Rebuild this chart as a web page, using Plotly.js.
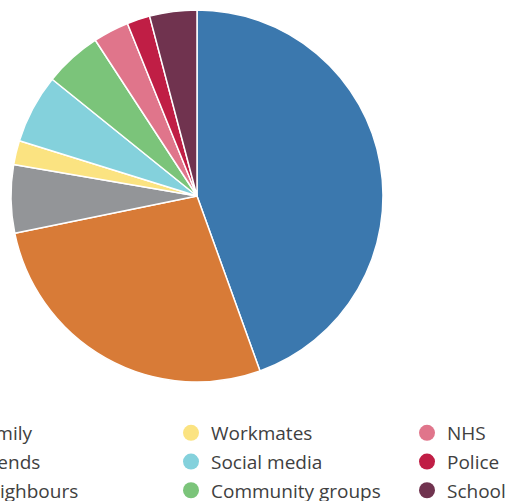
<!DOCTYPE html>
<html><head><meta charset="utf-8">
<script src="https://cdn.plot.ly/plotly-3.0.1.min.js"></script>
<style>html,body{margin:0;padding:0;background:#fff}#chart{width:509px;height:501px}</style>
</head><body><div id="chart"></div>
<script>
const categories = ["Family","Friends","Neighbours","Workmates","Social media","Community groups","NHS","Police","School"];
const values = [44.5,27.3,5.9,2.1,6.0,5.0,3.1,2.0,4.1];
const colors = ["#3b78ae","#d87b37","#939598","#fbe381","#84d1dc","#7bc47a","#e0758b","#c01e45","#70334f"];
const legendColumns = [[0,1,2],[3,4,5],[6,7,8]];

const traces = [{
  type:'pie', labels:categories, values:values, sort:false, direction:'clockwise', rotation:0,
  marker:{colors:colors, line:{color:'#ffffff', width:1.5}}, textinfo:'none', hoverinfo:'label+percent',
  showlegend:false, domain:{x:[11/509,383/509], y:[119/501,491/501]}
}];
const legendNames = ['legend','legend2','legend3'];
legendColumns.forEach((col,ci)=>{
  col.forEach(i=>{
    traces.push({type:'scatter', mode:'markers', x:[null], y:[null], name:categories[i],
      marker:{color:colors[i], size:16, symbol:'circle'}, legend:legendNames[ci], legendgroup:categories[i], hoverinfo:'skip'});
  });
});
const legBase = {orientation:'v', xref:'paper', yref:'paper', xanchor:'left', yanchor:'top',
  font:{family:'Open Sans, Noto Sans, sans-serif', size:19, color:'#404040'}, bgcolor:'rgba(0,0,0,0)',
  borderwidth:0, tracegroupgap:1, traceorder:'grouped', itemclick:false};
const layout = {
  width:509, height:501, margin:{l:0,r:0,t:0,b:0, autoexpand:false}, paper_bgcolor:'#fff', plot_bgcolor:'#fff',
  xaxis:{visible:false}, yaxis:{visible:false},
  legend:Object.assign({}, legBase, {x:-65/509, y:(501-414)/501}),
  legend2:Object.assign({}, legBase, {x:171/509, y:(501-414)/501}),
  legend3:Object.assign({}, legBase, {x:407/509, y:(501-414)/501}),
  showlegend:true
};
Plotly.newPlot('chart', traces, layout, {displayModeBar:false, staticPlot:true});
</script></body></html>
